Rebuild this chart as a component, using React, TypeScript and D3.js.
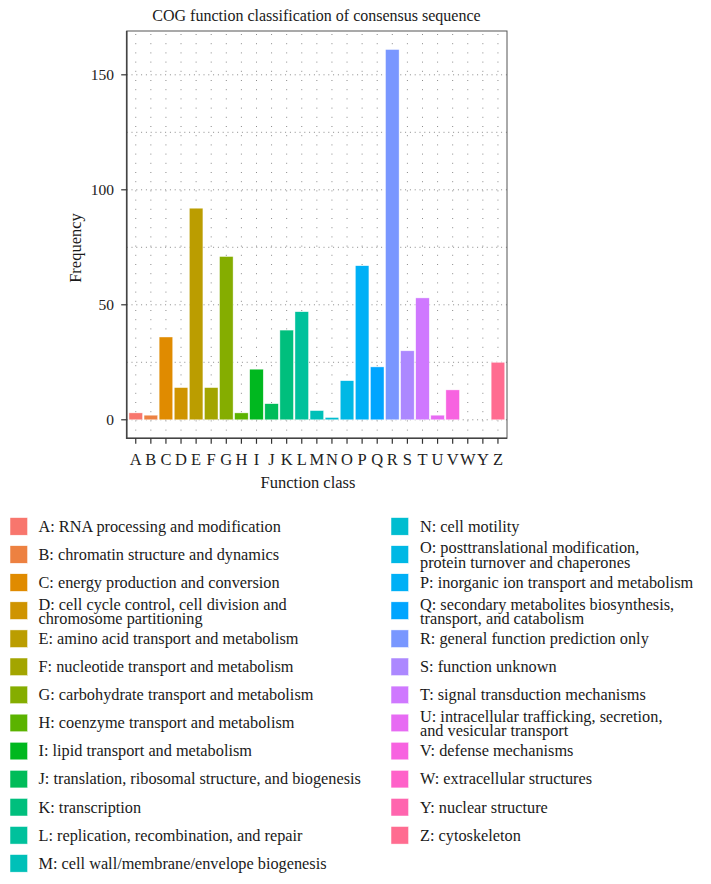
import React from "react";
import * as d3 from "d3";

const categories = ["A","B","C","D","E","F","G","H","I","J","K","L","M","N","O","P","Q","R","S","T","U","V","W","Y","Z"];
const frequencies = [3,2,36,14,92,14,71,3,22,7,39,47,4,1,17,67,23,161,30,53,2,13,0,0,25];
const yTicks = [0, 50, 100, 150];
const yGrid = [0, 25, 50, 75, 100, 125, 150];
const legendLabels = [
  "A: RNA processing and modification",
  "B: chromatin structure and dynamics",
  "C: energy production and conversion",
  "D: cell cycle control, cell division and\nchromosome partitioning",
  "E: amino acid transport and metabolism",
  "F: nucleotide transport and metabolism",
  "G: carbohydrate transport and metabolism",
  "H: coenzyme transport and metabolism",
  "I: lipid transport and metabolism",
  "J: translation, ribosomal structure, and biogenesis",
  "K: transcription",
  "L: replication, recombination, and repair",
  "M: cell wall/membrane/envelope biogenesis",
  "N: cell motility",
  "O: posttranslational modification,\nprotein turnover and chaperones",
  "P: inorganic ion transport and metabolism",
  "Q: secondary metabolites biosynthesis,\ntransport, and catabolism",
  "R: general function prediction only",
  "S: function unknown",
  "T: signal transduction mechanisms",
  "U: intracellular trafficking, secretion,\nand vesicular transport",
  "V: defense mechanisms",
  "W: extracellular structures",
  "Y: nuclear structure",
  "Z: cytoskeleton",
];

// ggplot-style hue palette (polar LUV)
function hclLuv(h: number, c: number, l: number): string {
  const hr = (h * Math.PI) / 180;
  const U = c * Math.cos(hr), V = c * Math.sin(hr);
  const Xn = 95.047, Yn = 100, Zn = 108.883;
  const den = Xn + 15 * Yn + 3 * Zn;
  const un = (4 * Xn) / den, vn = (9 * Yn) / den;
  const Y = l > 8 ? Yn * Math.pow((l + 16) / 116, 3) : (Yn * l) / 903.3;
  const up = U / (13 * l) + un, vp = V / (13 * l) + vn;
  const X = (9 * Y * up) / (4 * vp);
  const Z = (Y * (12 - 3 * up - 20 * vp)) / (4 * vp);
  const x = X / 100, y = Y / 100, z = Z / 100;
  const lin = [
    3.2404542 * x - 1.5371385 * y - 0.4985314 * z,
    -0.969266 * x + 1.8760108 * y + 0.041556 * z,
    0.0556434 * x - 0.2040259 * y + 1.0572252 * z,
  ];
  const g = lin.map((v) => {
    const s = v <= 0.0031308 ? 12.92 * v : 1.055 * Math.pow(v, 1 / 2.4) - 0.055;
    return Math.round(Math.max(0, Math.min(1, s)) * 255);
  });
  return d3.rgb(g[0], g[1], g[2]).formatHex();
}

const n = categories.length;
const palette = categories.map((_, i) => hclLuv(15 + (360 / n) * i, 100, 65));

const W = 711, H = 884;
const panel = { left: 126.7, right: 507, top: 31, bottom: 438.3 };
const FONT = "'Liberation Serif', 'DejaVu Serif', serif";

export default function App() {
  const x = d3
    .scaleBand<string>()
    .domain(categories)
    .range([panel.left, panel.right])
    .paddingInner(0.1)
    .paddingOuter(0.15);
  const ymax = d3.max(frequencies) as number;
  const y = d3
    .scaleLinear()
    .domain([-ymax * 0.05, ymax * 1.05])
    .range([panel.bottom, panel.top]);
  const cx = (c: string) => (x(c) as number) + x.bandwidth() / 2;

  const rowY0 = 526.3;
  const rowStep = 28.08;
  const leftCount = 13;
  const LFS = 16.3;

  return (
    <svg
      width={W}
      height={H}
      style={{ position: "absolute", left: 0, top: 0, background: "#fff" }}
      fontFamily={FONT}
    >
      <rect x={0} y={0} width={W} height={H} fill="#fff" />
      <text x={316.5} y={21} textAnchor="middle" fontSize={16} fill="#1a1a1a">
        COG function classification of consensus sequence
      </text>

      {/* grid */}
      <g>
        {categories.map((c) => (
          <line
            key={"vg" + c}
            x1={cx(c)}
            x2={cx(c)}
            y1={panel.top + 3}
            y2={panel.bottom}
            stroke="#8a8a8a"
            strokeWidth={1}
            strokeDasharray="1 8.2"
          />
        ))}
        {yGrid.map((v) => (
          <line
            key={"hg" + v}
            x1={panel.left}
            x2={panel.right}
            y1={y(v)}
            y2={y(v)}
            stroke="#8a8a8a"
            strokeWidth={1}
            strokeDasharray="1 3.8"
          />
        ))}
      </g>

      {/* bars */}
      <g>
        {categories.map((c, i) =>
          frequencies[i] > 0 ? (
            <rect
              key={"b" + c}
              x={x(c)}
              y={y(frequencies[i])}
              width={x.bandwidth()}
              height={y(0) - y(frequencies[i])}
              fill={palette[i]}
              stroke="#ffffff"
              strokeOpacity={0.7}
              strokeWidth={0.6}
            />
          ) : null
        )}
      </g>

      {/* panel border */}
      <rect
        x={panel.left}
        y={panel.top}
        width={panel.right - panel.left}
        height={panel.bottom - panel.top}
        fill="none"
        stroke="#555"
        strokeWidth={1}
      />
      <line x1={panel.left} x2={panel.left} y1={panel.top} y2={panel.bottom + 0.75} stroke="#444" strokeWidth={1.6} />
      <line x1={panel.left} x2={panel.right} y1={panel.bottom} y2={panel.bottom} stroke="#444" strokeWidth={1.6} />

      {/* y axis */}
      {yTicks.map((v) => (
        <g key={"yt" + v}>
          <line x1={panel.left - 5.5} x2={panel.left} y1={y(v)} y2={y(v)} stroke="#333" strokeWidth={1.2} />
          <text x={114} y={y(v) + 5.2} textAnchor="end" fontSize={15.5} fill="#222">
            {v}
          </text>
        </g>
      ))}
      <text
        transform={`translate(81,248) rotate(-90)`}
        textAnchor="middle"
        fontSize={16.5}
        fill="#1a1a1a"
      >
        Frequency
      </text>

      {/* x axis */}
      {categories.map((c) => (
        <g key={"xt" + c}>
          <line x1={cx(c)} x2={cx(c)} y1={panel.bottom} y2={panel.bottom + 5.5} stroke="#333" strokeWidth={1.2} />
          <text x={cx(c)} y={464.5} textAnchor="middle" fontSize={16.5} fill="#222">
            {c}
          </text>
        </g>
      ))}
      <text x={308} y={488} textAnchor="middle" fontSize={16.5} fill="#1a1a1a">
        Function class
      </text>

      {/* legend */}
      {legendLabels.map((lab, i) => {
        const col = i < leftCount ? 0 : 1;
        const row = col === 0 ? i : i - leftCount;
        const cy = rowY0 + row * rowStep;
        const sx = col === 0 ? 10 : 391;
        const tx = col === 0 ? 38.5 : 420;
        const lines = lab.split("\n");
        return (
          <g key={"lg" + i}>
            <rect x={sx} y={cy - 8.7} width={17.6} height={17.6} fill={palette[i]} stroke="#fff" strokeWidth={0.5} />
            {lines.length === 1 ? (
              <text x={tx} y={cy + 5.4} fontSize={LFS} fill="#1a1a1a">
                {lab}
              </text>
            ) : (
              <g>
                <text x={tx} y={cy - 1} fontSize={LFS} fill="#1a1a1a">
                  {lines[0]}
                </text>
                <text x={tx} y={cy + 13.2} fontSize={LFS} fill="#1a1a1a">
                  {lines[1]}
                </text>
              </g>
            )}
          </g>
        );
      })}
    </svg>
  );
}
